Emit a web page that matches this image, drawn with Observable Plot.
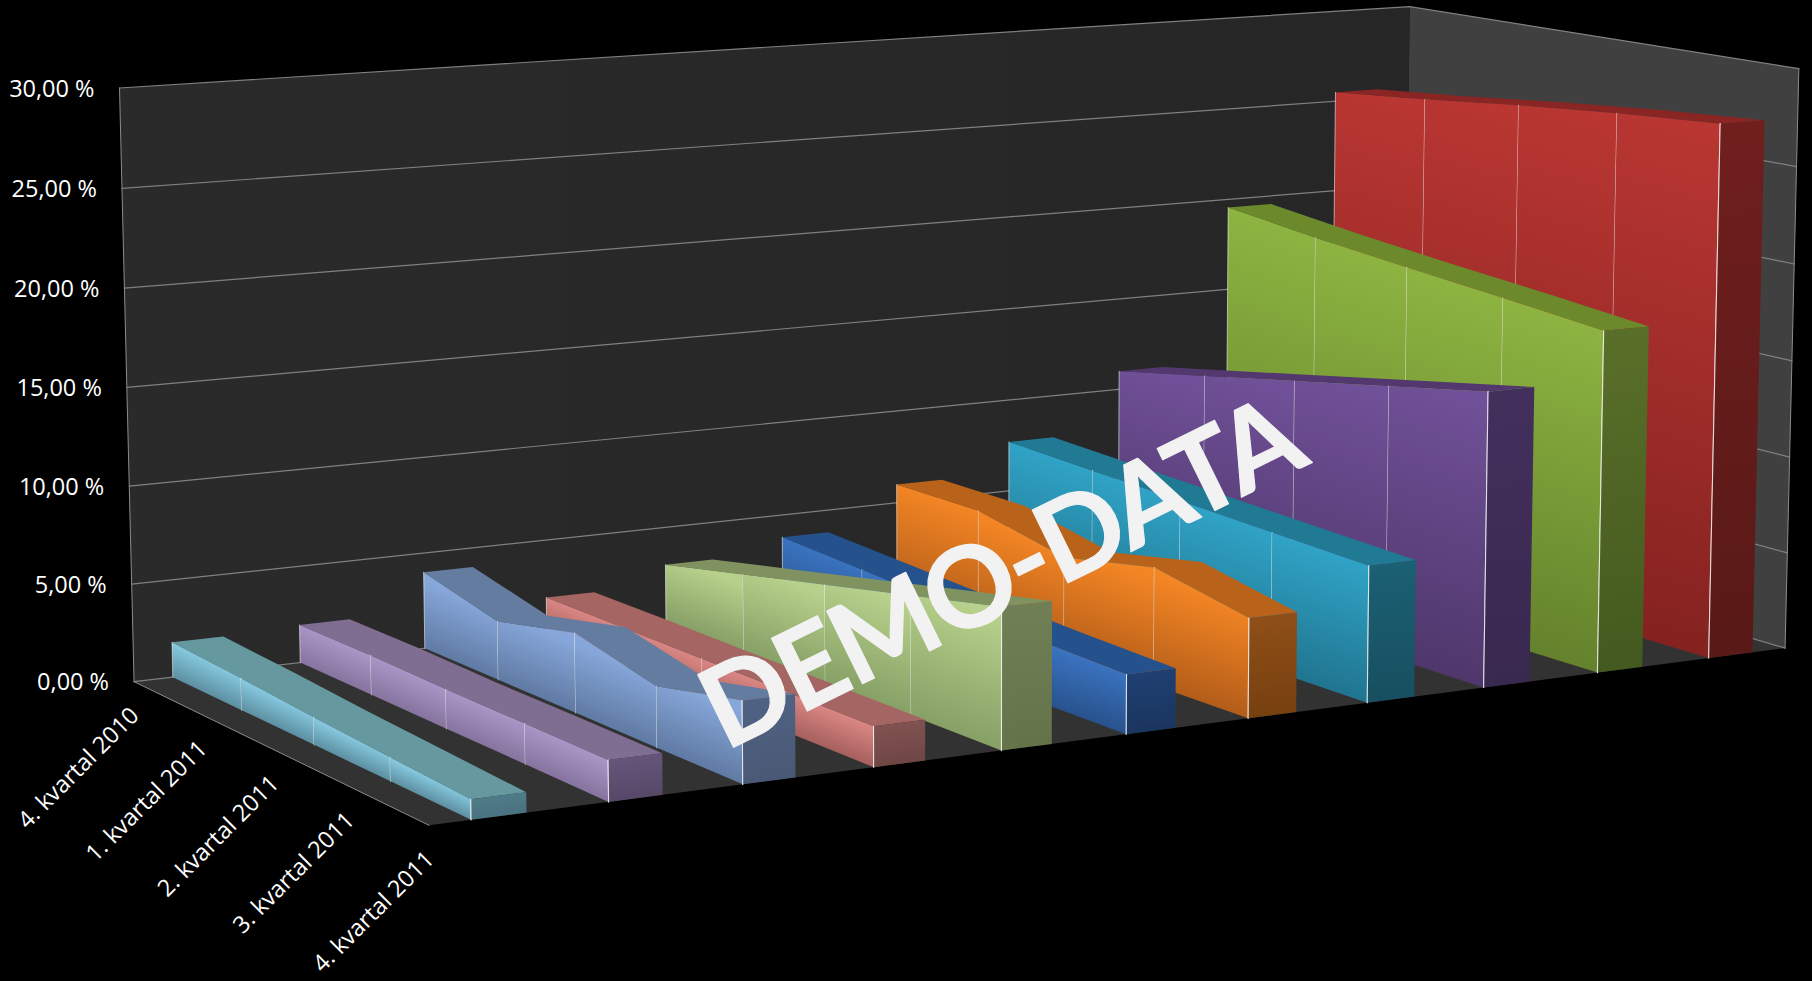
<!DOCTYPE html>
<html><head><meta charset="utf-8">
<style>html,body{margin:0;padding:0;background:#000;overflow:hidden}svg{display:block}.wm text{letter-spacing:-3px}</style>
<script src="https://cdn.jsdelivr.net/npm/d3@7"></script>
<script src="https://cdn.jsdelivr.net/npm/@observablehq/plot@0.6"></script>
</head><body><div id="chart"></div>
<script>
const categories = ["4. kvartal 2010","1. kvartal 2011","2. kvartal 2011","3. kvartal 2011","4. kvartal 2011"];
const valueTicks = [0,5,10,15,20,25,30];
const valueLabels = ["0,00 %","5,00 %","10,00 %","15,00 %","20,00 %","25,00 %","30,00 %"];
const ribbon1  = [1.8,1.6,1.35,1.15,0.96];
const ribbon2  = [1.96,2,1.95,1.97,1.97];
const ribbon3  = [4,3,4,3,4];
const ribbon4  = [1.95,1.97,1.96,1.98,1.98];
const ribbon5  = [3,4,5,6,7];
const ribbon6  = [3.8,3.55,3.3,3.1,2.95];
const ribbon7  = [6,6,5,6,5];
const ribbon8  = [7.7,7.5,7.3,7.1,6.9];
const ribbon9  = [11,12,13,14,15];
const ribbon10 = [19.55,18.95,18.45,18,17.5];
const ribbon11 = [25.5,26,26.6,27.1,27.5];
const ribbons = [ribbon1,ribbon2,ribbon3,ribbon4,ribbon5,ribbon6,ribbon7,ribbon8,ribbon9,ribbon10,ribbon11];
const faceTop    = ["#85c8de","#a996c6","#87a7da","#da8784","#b7d08b","#3a73c0","#f38524","#30a3c6","#705098","#8db441","#b93632"];
const faceBottom = ["#5d8fa1","#86749f","#5f7aa3","#a6605d","#86a066","#28528c","#b35d19","#207590","#4f376b","#64822c","#842220"];
const roofColor  = ["#65999f","#7f6d92","#647ca0","#a46563","#80925f","#25528c","#b9631a","#217a94","#53386f","#6c8a2c","#892523"];
const capTop     = ["#4f7b88","#65557a","#506284","#805250","#707f56","#1f4072","#8f4f18","#1b6074","#432f5c","#596f29","#701f1d"];
const capBottom  = ["#4a7280","#574767","#495975","#6f4644","#647349","#1a355f","#77400f","#174f60","#392850","#44591e","#581917"];

// Camera: fitted from the box corners of the 3D frame (u across, v depth, h value).
const anchors = [[0,0,0,133.6,681],[0,0,30,119,87.5],[1,0,30,1409.3,6],[1,0,0,1402.5,535.7],
                 [1,1,30,1798.3,68.3],[1,1,0,1784.7,647.3],[0,1,0,428.6,825]];
function fitCamera(pts){
  const A=[],b=[];
  for(const [u,v,h0,X0,Y0] of pts){
    const h=h0/30,X=X0/1000,Y=Y0/1000;
    A.push([u,v,h,1,0,0,0,0,-X*u,-X*v,-X*h]);b.push(X);
    A.push([0,0,0,0,u,v,h,1,-Y*u,-Y*v,-Y*h]);b.push(Y);
  }
  const n=11,M=d3.range(n).map(i=>d3.range(n+1).map(j=>j<n?d3.sum(A,r=>r[i]*r[j]):d3.sum(A,(r,k)=>r[i]*b[k])));
  for(let i=0;i<n;i++){
    let p=i;for(let r=i+1;r<n;r++)if(Math.abs(M[r][i])>Math.abs(M[p][i]))p=r;
    [M[i],M[p]]=[M[p],M[i]];
    for(let r=0;r<n;r++)if(r!==i){const f=M[r][i]/M[i][i];for(let c=i;c<=n;c++)M[r][c]-=f*M[i][c];}
  }
  return M.map((r,i)=>r[n]/r[i]);
}
const cam=fitCamera(anchors);
function project(u,v,h0){
  const h=h0/30,w=cam[8]*u+cam[9]*v+cam[10]*h+1;
  return [1000*(cam[0]*u+cam[1]*v+cam[2]*h+cam[3])/w,1000*(cam[4]*u+cam[5]*v+cam[6]*h+cam[7])/w];
}
const gapShare=0.3,widthShare=0.4;

const shapes=[],gradients=[];let nid=0;
function poly(points,fill,extra={}){
  const id=nid++;
  for(const p of points){const [x,y]=project(...p);shapes.push({id,x,y,fill,stroke:extra.stroke??"none",sw:extra.sw??0,so:extra.so??1});}
}
function gradientFor(bl,br,tl,tr,c0,c1){
  const [a,b,c,d]=[project(...bl),project(...br),project(...tl),project(...tr)];
  let dx=b[0]-a[0],dy=b[1]-a[1];const L=Math.hypot(dx,dy)||1;dx/=L;dy/=L;
  const tm=[(c[0]+d[0])/2,(c[1]+d[1])/2],bm=[(a[0]+b[0])/2,(a[1]+b[1])/2];
  const nx=-dy,ny=dx,k=(bm[0]-tm[0])*nx+(bm[1]-tm[1])*ny;
  const id="g"+gradients.length;
  gradients.push({id,x1:tm[0],y1:tm[1],x2:tm[0]+nx*k,y2:tm[1]+ny*k,c0,c1});
  return `url(#${id})`;
}
// painter's order: far (right) ribbons first; each one roof, then side from back to front, then end cap
for(let s=ribbons.length-1;s>=0;s--){
  const vals=ribbons[s],u0=(s+gapShare)/11,u1=(s+gapShare+widthShare)/11,n=vals.length-1;
  poly([...vals.map((h,i)=>[u0,i/n,h]),...vals.map((h,i)=>[u1,i/n,h]).reverse()],roofColor[s]);
  for(let i=0;i<n;i++){
    const v0=i/n,v1=(i+1)/n,h0=vals[i],h1=vals[i+1];
    const g=gradientFor([u0,v0,0],[u0,v1,0],[u0,v0,h0],[u0,v1,h1],faceTop[s],faceBottom[s]);
    poly([[u0,v0,0],[u0,v1,0],[u0,v1,h1],[u0,v0,h0]],g);
    if(i===0) poly([[u0,v0,0],[u0,v0,h0]],"none",{stroke:"#fff",sw:1,so:.55});
    poly([[u0,v1,0],[u0,v1,h1]],"none",{stroke:"#fff",sw:1.1,so:.7});
  }
  const last=vals[n];
  const gc=gradientFor([u0,1,0],[u1,1,0],[u0,1,last],[u1,1,last],capTop[s],capBottom[s]);
  poly([[u0,1,0],[u1,1,0],[u1,1,last],[u0,1,last]],gc);
  poly([[u0,1,0],[u0,1,last]],"none",{stroke:"#fff",sw:1.1,so:.75});
}

const frameFace=(pts,fill)=>{const id="f"+nid++;return pts.map(p=>{const [x,y]=project(...p);return {id,x,y,fill};});};
const walls=[
  ...frameFace([[0,0,0],[1,0,0],[1,0,30],[0,0,30]],"url(#backWall)"),
  ...frameFace([[1,0,0],[1,1,0],[1,1,30],[1,0,30]],"#404040"),
  ...frameFace([[0,0,0],[0,1,0],[1,1,0],[1,0,0]],"#323232")
];
const gridRows=valueTicks.flatMap(h=>[[0,0,h],[1,0,h],[1,1,h]].map(p=>{const [x,y]=project(...p);return {id:"t"+h,x,y};}));
const edgeRows=[[[0,0,0],[0,0,30]],[[0,0,0],[0,1,0]],[[1,1,0],[1,1,30]]].flatMap((e,k)=>e.map(p=>{const [x,y]=project(...p);return {id:"e"+k,x,y};}));
const yLabels=valueTicks.map((h,i)=>{const [x,y]=project(0,0,h);return {x,y,label:valueLabels[i]};});
const xLabels=categories.map((c,i)=>{const [x,y]=project(0,i/(categories.length-1),0);return {x,y,label:c};});
const watermark=[{x:1001,y:575,label:"DEMO-DATA"}];

function defsMark(){
  const defs=d3.create("svg:defs");
  const wall=defs.append("linearGradient").attr("id","backWall");
  wall.append("stop").attr("offset",0).attr("stop-color","#2a2a2a");
  wall.append("stop").attr("offset",1).attr("stop-color","#262626");
  for(const g of gradients){
    const lg=defs.append("linearGradient").attr("id",g.id).attr("gradientUnits","userSpaceOnUse")
      .attr("x1",g.x1).attr("y1",g.y1).attr("x2",g.x2).attr("y2",g.y2);
    lg.append("stop").attr("offset",0).attr("stop-color",g.c0);
    lg.append("stop").attr("offset",1).attr("stop-color",g.c1);
  }
  return defs.node();
}
const W=1812,H=981;
const chart=Plot.plot({
  width:W,height:H,margin:0,style:{background:"#000",color:"#fff"},
  x:{domain:[0,W],range:[0,W],axis:null},
  y:{domain:[0,H],range:[0,H],axis:null},
  marks:[
    defsMark,
    Plot.line(walls,{x:"x",y:"y",z:"id",fill:{value:"fill",scale:null}}),
    Plot.line(gridRows,{x:"x",y:"y",z:"id",stroke:"#808080",strokeWidth:1.2}),
    Plot.line(edgeRows,{x:"x",y:"y",z:"id",stroke:"#8c8c8c",strokeWidth:1}),
    Plot.line(shapes,{x:"x",y:"y",z:"id",fill:{value:"fill",scale:null},stroke:{value:"stroke",scale:null},strokeWidth:"sw",strokeOpacity:"so"}),
    Plot.text(yLabels,{x:"x",y:"y",text:"label",textAnchor:"end",dx:-25,dy:1,fill:"#fff",fontSize:23.5,fontFamily:"'Open Sans'"}),
    Plot.text(xLabels,{x:"x",y:"y",text:"label",textAnchor:"end",dx:1,dy:30,rotate:-45,fill:"#fff",fontSize:23.5,fontFamily:"'Open Sans'"}),
    Plot.text(watermark,{x:"x",y:"y",text:"label",textAnchor:"middle",rotate:-26.2,fill:"#f2f2f2",stroke:"#f2f2f2",strokeWidth:1.2,strokeLinejoin:"round",fontSize:112,fontWeight:700,fontFamily:"Lato",className:"wm"})
  ]
});
document.getElementById("chart").append(chart);
</script></body></html>
